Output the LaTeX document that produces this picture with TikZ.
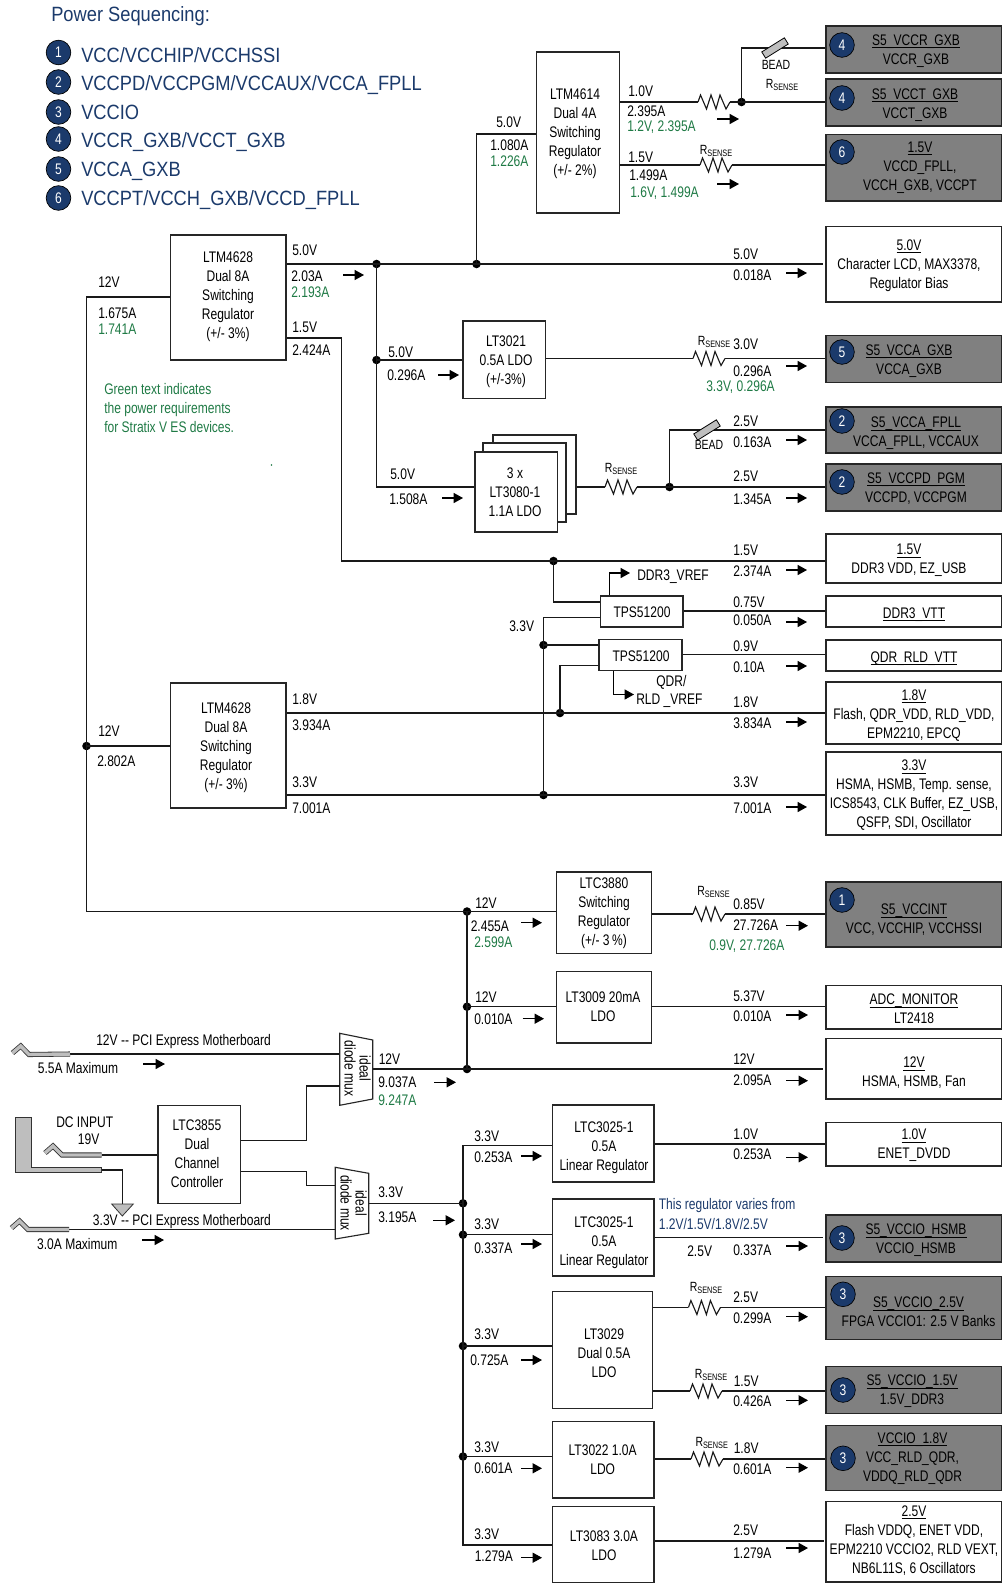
\documentclass[tikz,border=0pt]{standalone}
\usepackage{fontspec}
\setmainfont{Liberation Sans}[FakeStretch=0.785]
\newfontfamily\headfont{Liberation Sans}[FakeStretch=0.885]
\usetikzlibrary{arrows.meta,calc}
\definecolor{navy}{HTML}{1B3A6B}
\definecolor{gtxt}{HTML}{1F7A45}
\definecolor{load}{HTML}{808080}
\definecolor{beadc}{HTML}{BEBEBE}
\newcounter{tn}
\newcommand\Ul[1]{\underline{\smash{#1}}}
\newcommand\PBox[9][]{%
 \pgfmathsetmacro\bw{(#5-#3)*.75}\pgfmathsetmacro\bh{(#6-#4)*.75}%
 \pgfmathsetmacro\bcx{(#3+#5)/2}\pgfmathsetmacro\bcy{(#4+#6)/2}%
 \pgfmathsetmacro\bdx{(#7-\bcx)*.75}\pgfmathsetmacro\bdy{-(#8-\bcy)*.75-4.2}%
 \node[pbox,#1,minimum width=\bw pt,minimum height=\bh pt] (#2) at (\bcx,\bcy)
  {\hspace*{\bdx pt}\raisebox{\bdy pt}[0pt][0pt]{\begin{tabular}{@{}c@{}}#9\end{tabular}}\hspace*{-\bdx pt}};}
\newcommand\Tx[4][]{\stepcounter{tn}\node[lbl,#1] (t\arabic{tn}) at (#2,#3) {#4};}
\newcommand\Fl[3]{\draw[flow] (#1,#3) -- (#2,#3);}
\newcommand\Rs[3]{\coordinate (#1a) at (#2,#3); \coordinate (#1b) at ({#2+32},#3);
 \draw[wire] (#1a) -- ++(2.5,-7) -- ++(6,14) -- ++(4.5,-14) -- ++(5,14) -- ++(4,-14) -- ++(6,14) -- (#1b);}
\newcommand\Dot[3]{\node[jdot] (#1) at (#2,#3) {};}
\newcommand\Seq[4]{\node[seq] (#1) at (#2,#3) {#4};}
\newcommand\RsL[2]{\stepcounter{tn}\node[rsl] (t\arabic{tn}) at (#1,#2) {R\fontsize{7}{8}\selectfont\raisebox{-1.5pt}{SENSE}};}
\tikzset{
 wire/.style={line width=.85pt,draw=black!90,line join=miter},
 flow/.style={line width=.85pt,draw=black,-{Triangle[length=7pt,width=7.5pt]}},
 pbox/.style={draw=black!85,line width=.85pt,fill=white,inner sep=0pt,rectangle,
   font=\fontsize{11.5}{14.25}\selectfont},
 gbox/.style={fill=load},
 lbl/.style={anchor=west,inner sep=0pt,font=\fontsize{11.5}{14.25}\selectfont},
 grn/.style={text=gtxt},
 rsl/.style={anchor=center,inner sep=0pt,font=\fontsize{10}{12}\selectfont},
 jdot/.style={circle,fill=black,draw=none,minimum size=6.4pt,inner sep=0pt},
 seq/.style={circle,fill=navy,draw=black,line width=.5pt,minimum size=18.5pt,inner sep=0pt,text=white,
   font=\fontsize{11.5}{14}\selectfont},
 bead/.style={rectangle,fill=beadc,draw=black,line width=.6pt,minimum width=20pt,minimum height=5.5pt,inner sep=0pt,rotate=32},
 plug/.style={double=beadc,double distance=2.6pt,line width=.6pt,draw=black!80,line join=miter},
 head/.style={anchor=west,inner sep=0pt,text=navy,font=\headfont\fontsize{15.5}{18}\selectfont},
 muxs/.style={draw=black!85,line width=.85pt,fill=white},
 muxt/.style={inner sep=0pt,rotate=-90,align=center,font=\fontsize{11.5}{11.25}\selectfont},
}
\begin{document}
\begin{tikzpicture}[x=.75pt,y=-.75pt]
\useasboundingbox (0,0) rectangle (1002,1587);
% legend
\node[head] (title) at (51,16.5) {Power Sequencing:};
\Seq{s1}{58.5}{52.5}{1}\Seq{s2}{58.5}{82}{2}\Seq{s3}{58.5}{112}{3}\Seq{s4}{58.5}{139}{4}\Seq{s5}{58.5}{169}{5}\Seq{s6}{58.5}{198}{6}
\node[head] (h1) at (81,55) {VCC/VCCHIP/VCCHSSI};
\node[head] (h2) at (81,85) {VCCPD/VCCPGM/VCCAUX/VCCA\_FPLL};
\node[head] (h3) at (81,112.5) {VCCIO};
\node[head] (h4) at (81,142) {VCCR\_GXB/VCCT\_GXB};
\node[head] (h5) at (81,171) {VCCA\_GXB};
\node[head] (h6) at (81,200) {VCCPT/VCCH\_GXB/VCCD\_FPLL};
\node[lbl,grn,align=left,anchor=north west] (note) at (104,383) {Green text indicates\\the power requirements\\for Stratix V ES devices.};
\fill[gtxt] (271.5,465) circle (.6pt);
% regulators
\PBox{ltmA}{170.5}{235}{286}{360}{228}{295}{LTM4628\\Dual 8A\\Switching\\Regulator\\(+/- 3\%)}
\PBox{ltmB}{170.5}{683}{286}{808}{226}{746}{LTM4628\\Dual 8A\\Switching\\Regulator\\(+/- 3\%)}
\PBox{ltmF}{536.5}{52}{619.5}{213}{575}{132}{LTM4614\\Dual 4A\\Switching\\Regulator\\(+/- 2\%)}
\PBox{ltT}{463}{321}{545.5}{398.5}{506}{360}{LT3021\\0.5A LDO\\(+/-3\%)}
\PBox{lt80c}{493}{435}{576}{514}{534}{474}{}
\PBox{lt80b}{483}{443}{566}{522}{524}{482}{}
\PBox{lt80}{475}{452}{557.5}{532}{515}{492}{3 x\\LT3080-1\\1.1A LDO}
\PBox{tpsA}{600.5}{596}{683}{627}{642}{612}{TPS51200}
\PBox{tpsB}{599}{639.5}{682}{670.5}{641}{656}{TPS51200}
\PBox{ltc80}{556.5}{872}{651.5}{953.7}{604}{912}{LTC3880\\Switching\\Regulator\\(+/- 3\,\%)}
\PBox{lt09}{556.5}{971.7}{651.5}{1043}{603}{1007}{LT3009 20mA\\LDO}
\PBox{ltc55}{158}{1105.3}{240.7}{1203.3}{197}{1154}{LTC3855\\Dual\\Channel\\Controller}
\PBox{ltcA}{552.5}{1105}{654}{1182}{604}{1145.7}{LTC3025-1\\0.5A\\Linear Regulator}
\PBox{ltcB}{552.5}{1199}{654}{1276}{604}{1240.7}{LTC3025-1\\0.5A\\Linear Regulator}
\PBox{lt29}{552.5}{1291.7}{652.5}{1408.7}{604}{1353.3}{LT3029\\Dual 0.5A\\LDO}
\PBox{lt22}{552.5}{1421.3}{654}{1498}{602.7}{1460}{LT3022 1.0A\\LDO}
\PBox{lt83}{552.5}{1506.3}{654}{1582.7}{604}{1546}{LT3083 3.0A\\LDO}
% loads
\PBox[gbox]{gR}{826}{26}{1002}{73}{916}{49.5}{\Ul{S5\_VCCR\_GXB}\\VCCR\_GXB}
\PBox[gbox]{gT}{826}{79}{1002}{126}{915}{103.5}{\Ul{S5\_VCCT\_GXB}\\VCCT\_GXB}
\PBox[gbox]{gS}{826}{134.5}{1002}{201}{920}{166}{\Ul{1.5V}\\VCCD\_FPLL,\\VCCH\_GXB, VCCPT}
\PBox{lcd}{826}{226.5}{1002}{302}{909}{264}{\Ul{5.0V}\\Character LCD, MAX3378,\\Regulator Bias}
\PBox[gbox]{gAG}{826}{335.5}{1002}{382.5}{909}{359.5}{\Ul{S5\_VCCA\_GXB}\\VCCA\_GXB}
\PBox[gbox]{gFP}{826}{407}{1002}{453}{916}{432}{\Ul{S5\_VCCA\_FPLL}\\VCCA\_FPLL, VCCAUX}
\PBox[gbox]{gPD}{826}{464}{1002}{511}{916}{487.5}{\Ul{S5\_VCCPD\_PGM}\\VCCPD, VCCPGM}
\PBox{dvdd}{826}{534}{1002}{583}{909}{559}{\Ul{1.5V}\\DDR3 VDD, EZ\_USB}
\PBox{dvtt}{826}{596}{1002}{627}{914}{613}{\Ul{DDR3\_VTT}}
\PBox{qvtt}{826}{640}{1002}{671}{914}{657}{\Ul{QDR\_RLD\_VTT}}
\PBox{vE}{826}{682}{1002}{744}{914}{714}{\Ul{1.8V}\\Flash, QDR\_VDD, RLD\_VDD,\\EPM2210, EPCQ}
\PBox{vT}{826}{752}{1002}{835}{914}{794}{\Ul{3.3V}\\HSMA, HSMB, Temp. sense,\\ICS8543, CLK Buffer, EZ\_USB,\\QSFP, SDI, Oscillator}
\PBox[gbox]{gInt}{826}{882}{1002}{947}{914}{919}{\Ul{S5\_VCCINT}\\VCC, VCCHIP, VCCHSSI}
\PBox{adc}{826}{985.7}{1002}{1029}{914}{1009}{\Ul{ADC\_MONITOR}\\LT2418}
\PBox{vTw}{826}{1038.7}{1002}{1099}{914}{1072}{\Ul{12V}\\HSMA, HSMB, Fan}
\PBox{vO}{826}{1122.3}{1002}{1166}{914}{1144}{\Ul{1.0V}\\ENET\_DVDD}
\PBox[gbox]{gHS}{826}{1215}{1002}{1262}{916}{1239}{\Ul{S5\_VCCIO\_HSMB}\\VCCIO\_HSMB}
\PBox[gbox]{gQ}{826}{1276.7}{1002}{1339.7}{918.5}{1312}{\Ul{S5\_VCCIO\_2.5V}\\FPGA VCCIO1: 2.5 V Banks}
\PBox[gbox]{gP}{826}{1366.7}{1002}{1413.3}{912}{1390}{\Ul{S5\_VCCIO\_1.5V}\\1.5V\_DDR3}
\PBox[gbox]{gE}{826}{1425.3}{1002}{1490.7}{912.5}{1456.7}{\Ul{VCCIO\_1.8V}\\VCC\_RLD\_QDR,\\VDDQ\_RLD\_QDR}
\PBox{vQ}{826}{1501.7}{1002}{1582}{914}{1539.5}{\Ul{2.5V}\\Flash VDDQ, ENET VDD,\\EPM2210 VCCIO2, RLD VEXT,\\NB6L11S, 6 Oscillators}
% sequence badges on loads
\Seq{b1}{842}{45}{4}\Seq{b2}{842}{98}{4}\Seq{b3}{842}{152}{6}\Seq{b4}{842}{352}{5}\Seq{b5}{842}{421}{2}\Seq{b6}{842}{482}{2}
\Seq{b7}{842}{900}{1}\Seq{b8}{842}{1238}{3}\Seq{b9}{843}{1294.3}{3}\Seq{b10}{843}{1390}{3}\Seq{b11}{843}{1458.3}{3}
% junctions
\Dot{jA}{376.5}{264}\Dot{jB}{476.5}{264}\Dot{jC}{376.5}{360}\Dot{jD}{86.5}{746}\Dot{jS}{553.5}{561}
\Dot{jE}{543.5}{645}\Dot{jF}{543.5}{795}\Dot{jG}{560}{713}\Dot{jH}{741.5}{102}\Dot{jI}{669.5}{487}
\Dot{jJ}{467}{911.5}\Dot{jK}{467}{1006.7}\Dot{jL}{467}{1069}\Dot{jM}{463}{1203.3}\Dot{jN}{463}{1234.7}\Dot{jO}{463}{1346}\Dot{jP}{463}{1456.5}
% resistors
\Rs{ra}{698}{102}\Rs{rb}{700}{165}\Rs{rc}{693}{358.5}\Rs{rd}{605}{487}\Rs{re}{693}{914}\Rs{rf}{688.4}{1307.5}\Rs{rg}{690}{1391}\Rs{rh}{691}{1459}
\RsL{782}{85}\RsL{716}{151}\RsL{714}{342}\RsL{621}{469}\RsL{713.5}{891.7}\RsL{706}{1288.3}\RsL{711}{1375}\RsL{711.7}{1442.7}
% wires
\draw[wire] (ltmA.west |- 0,297) -- (86.5,297) -- (86.5,911.5) -- (jJ.center) -- (ltc80.west |- jJ);
\draw[wire] (jD.center) -- (ltmB.west |- jD);
\draw[wire] (jJ.center) -- (jK.center) -- (jL.center);
\draw[wire] (jK.center) -- (lt09.west |- jK);
\draw[wire,shorten >=2pt] (372.7,1069) -- (jL.center) -- (vTw.west |- jL);
\draw[wire,shorten >=2pt] (ltmA.east |- jA) -- (jA.center) -- (jB.center) -- (lcd.west |- jB);
\draw[wire] (jB.center) |- (ltmF.west |- 0,134);
\draw[wire] (jA.center) -- (jC.center) -- (376.5,487) -- (lt80.west |- 0,487);
\draw[wire] (jC.center) -- (ltT.west |- jC);
\draw[wire] (ltmA.east |- 0,338) -- (341.5,338) -- (341.5,561) -- (jS.center) -- (dvdd.west |- jS);
\draw[wire] (jS.center) |- (tpsA.west |- 0,602);
\draw[wire] (jF.center) -- (543.5,617.5) -- (tpsA.west |- 0,617.5);
\draw[wire] (jE.center) -- (tpsB.west |- jE);
\draw[wire] (ltmB.east |- jF) -- (jF.center) -- (vT.west |- jF);
\draw[wire] (ltmB.east |- jG) -- (jG.center) -- (vE.west |- jG);
\draw[wire] (tpsB.west |- 0,665.5) -| (jG.center);
\draw[flow] (609.5,0 |- tpsA.north) |- (630,573);
\draw[flow] (613.5,0 |- tpsB.south) |- (634,694.5);
\draw[wire] (tpsA.east |- 0,611) -- (dvtt.west |- 0,611);
\draw[wire] (tpsB.east |- 0,654.5) -- (qvtt.west |- 0,654.5);
\draw[wire] (ltmF.east |- raa) -- (raa); 
\draw[wire] (rab) -- (jH.center) -- (gT.west |- jH);
\draw[wire] (jH.center) |- (gR.west |- 0,48);
\draw[wire] (ltmF.east |- rba) -- (rba);
\draw[wire] (rbb) -- (gS.west |- rbb);
\draw[wire] (ltT.east |- rca) -- (rca);
\draw[wire] (rcb) -- (gAG.west |- rcb);
\draw[wire] (lt80c.east |- rda) -- (rda);
\draw[wire] (rdb) -- (jI.center) -- (gPD.west |- jI);
\draw[wire] (jI.center) |- (gFP.west |- 0,430);
\draw[wire] (ltc80.east |- rea) -- (rea);
\draw[wire] (reb) -- (gInt.west |- reb);
\draw[wire] (lt09.east |- jK) -- (adc.west |- jK);
\draw[wire] (ltcA.east |- 0,1144) -- (vO.west |- 0,1144);
\draw[wire,shorten >=2pt] (ltcB.east |- 0,1237.7) -- (gHS.west |- 0,1237.7);
\draw[wire] (lt29.east |- rfa) -- (rfa);
\draw[wire] (rfb) -- (gQ.west |- rfb);
\draw[wire] (lt29.east |- rga) -- (rga);
\draw[wire] (rgb) -- (gP.west |- rgb);
\draw[wire] (lt22.east |- rha) -- (rha);
\draw[wire] (rhb) -- (gE.west |- rhb);
\draw[wire,shorten >=1pt] (lt83.east |- 0,1541) -- (vQ.west |- 0,1541);
% 3.3V bus
\draw[wire] (ltcA.west |- 0,1145.7) -- (463,1145.7) -- (463,1545) -- (lt83.west |- 0,1545);
\draw[wire] (368.7,1203.3) -- (jM.center);
\draw[wire] (jN.center) -- (ltcB.west |- jN);
\draw[wire] (jO.center) -- (lt29.west |- jO);
\draw[wire] (jP.center) -- (lt22.west |- jP);
% beads
\node[bead] (bdA) at (775,48) {};
\node[bead] (bdB) at (707,430) {};
% input side
\coordinate (plA) at (70,1054);
\coordinate (plB) at (101.7,1155);
\coordinate (plC) at (69,1229.5);
\coordinate (gndT) at (122.3,1204);
\draw[wire] (plA) -- (339.7,1054);
\draw[wire] (plB) -- (ltc55.west |- plB);
\draw[wire] (plC) -- (335.3,1229.5);
\draw[plug] (12.5,1053) -- (20.7,1046) -- (29,1054.5) -- (plA);
\draw[plug] (45,1153) -- (53,1146) -- (62,1155) -- (plB);
\draw[plug] (11.5,1228) -- (19.5,1221) -- (28,1229.5) -- (plC);
\draw[draw=black!80,line width=.7pt,fill=beadc] (15,1117) -- (31.7,1117) -- (31.7,1167.7) -- (101.7,1167.7) -- (101.7,1172.3) -- (15,1172.3) -- cycle;
\draw[wire] (101.7,1170) -| (gndT);
\draw[draw=black!80,line width=.6pt,fill=beadc] (111.7,1204) -- (133.3,1204) -- (122.3,1216) -- cycle;
\draw[muxs] (339.7,1033.3) -- (372.7,1040) -- (372.7,1099) -- (339.7,1105.3) -- cycle;
\draw[muxs] (335.3,1167.3) -- (368.7,1173.3) -- (368.7,1233.3) -- (335.3,1239) -- cycle;
\node[muxt] (muxA) at (357.5,1068.5) {ideal\\diode mux};
\node[muxt] (muxB) at (353.7,1203) {ideal\\diode mux};
\draw[wire] (ltc55.east |- 0,1140.7) -- (306.7,1140.7) -- (306.7,1086) -- (339.7,1086);
\draw[wire] (ltc55.east |- 0,1171.7) -- (306.5,1171.7) -- (306.5,1185.3) -- (335.3,1185.3);
\Tx{96}{1041.7}{12V {-}{-} PCI Express Motherboard}
\Tx[anchor=center]{78}{1067.7}{5.5A Maximum}
\Tx[anchor=center]{84.7}{1122.3}{DC INPUT}
\Tx[anchor=center]{88.7}{1139.3}{19V}
\Tx{92.7}{1221.7}{3.3V {-}{-} PCI Express Motherboard}
\Tx[anchor=center]{77.3}{1243.7}{3.0A Maximum}
\Tx[rsl]{776}{65}{BEAD}
\Tx[rsl]{709}{445}{BEAD}
% labels
\Tx{98}{282}{12V}\Tx{98}{313}{1.675A}\Tx[grn]{98}{329}{1.741A}
\Tx{292}{250}{5.0V}\Tx{291}{276}{2.03A}\Tx[grn]{291}{292}{2.193A}
\Tx{292}{327}{1.5V}\Tx{292}{350}{2.424A}
\Tx{388}{352}{5.0V}\Tx{387}{375}{0.296A}
\Tx{390}{474}{5.0V}\Tx{389}{499}{1.508A}
\Tx{496}{122}{5.0V}\Tx{490}{145}{1.080A}\Tx[grn]{490}{161}{1.226A}
\Tx{628}{91}{1.0V}\Tx{627}{111}{2.395A}\Tx[grn]{627}{127}{1.2V, 2.395A}
\Tx{628}{157}{1.5V}\Tx{629}{175}{1.499A}\Tx[grn]{630}{193}{1.6V, 1.499A}
\Tx{733}{254}{5.0V}\Tx{733}{275}{0.018A}
\Tx{733}{344}{3.0V}\Tx{733}{371}{0.296A}\Tx[grn]{706}{387}{3.3V, 0.296A}
\Tx{733}{421}{2.5V}\Tx{733}{442}{0.163A}
\Tx{733}{476}{2.5V}\Tx{733}{499}{1.345A}
\Tx{733}{550}{1.5V}\Tx{733}{571}{2.374A}
\Tx{637}{577}{DDR3\_VREF}
\Tx{509}{626}{3.3V}
\Tx{733}{602}{0.75V}\Tx{733}{620}{0.050A}
\Tx{733}{646}{0.9V}\Tx{733}{667}{0.10A}
\Tx{656}{682}{QDR/}\Tx{636}{701}{RLD \_VREF}
\Tx{733}{702}{1.8V}\Tx{733}{723}{3.834A}
\Tx{733}{782}{3.3V}\Tx{733}{808}{7.001A}
\Tx{98}{731}{12V}\Tx{97}{761}{2.802A}
\Tx{292}{699}{1.8V}\Tx{292}{725}{3.934A}
\Tx{292}{782}{3.3V}\Tx{292}{808}{7.001A}
\Tx{475}{903}{12V}\Tx{470.5}{926.7}{2.455A}\Tx[grn]{474}{942.7}{2.599A}
\Tx{733}{904}{0.85V}\Tx{733}{925}{27.726A}\Tx[grn]{709}{946}{0.9V, 27.726A}
\Tx{475}{997}{12V}\Tx{474}{1019}{0.010A}
\Tx{733}{996.7}{5.37V}\Tx{733}{1016.7}{0.010A}
\Tx{733}{1059}{12V}\Tx{733}{1080.7}{2.095A}
\Tx{378.5}{1058.7}{12V}\Tx{378}{1082.7}{9.037A}\Tx[grn]{378}{1100}{9.247A}
\Tx{474}{1136}{3.3V}\Tx{474}{1157.3}{0.253A}
\Tx{733}{1134}{1.0V}\Tx{733}{1154.7}{0.253A}
\Tx{378}{1192.7}{3.3V}\Tx{378}{1217.7}{3.195A}
\Tx[text=navy]{658.6}{1206}{This regulator varies from}
\Tx[text=navy]{658.6}{1224}{1.2V/1.5V/1.8V/2.5V}
\Tx{474}{1224.7}{3.3V}\Tx{474}{1248.7}{0.337A}
\Tx{687}{1251.7}{2.5V}\Tx{733}{1250.7}{0.337A}
\Tx{474}{1334.3}{3.3V}\Tx{470}{1360.7}{0.725A}
\Tx{733}{1297.3}{2.5V}\Tx{733}{1318.7}{0.299A}
\Tx{733.5}{1381.7}{1.5V}\Tx{733}{1401.7}{0.426A}
\Tx{474}{1447.3}{3.3V}\Tx{474}{1468.7}{0.601A}
\Tx{733.5}{1448.7}{1.8V}\Tx{733}{1469.3}{0.601A}
\Tx{474}{1534.3}{3.3V}\Tx{474.5}{1556.7}{1.279A}
\Tx{733}{1530.3}{2.5V}\Tx{733}{1553.3}{1.279A}
% current-direction arrows
\Fl{343}{364}{275}\Fl{438}{459}{375}\Fl{442}{463}{498}
\Fl{717}{739}{119}\Fl{717}{739}{184}
\Fl{786}{807}{273}\Fl{786}{807}{366}\Fl{786}{807}{440}\Fl{786}{807}{498}\Fl{786}{807}{570}\Fl{786}{807}{622}\Fl{786}{807}{666}\Fl{786}{807}{722}\Fl{786}{807}{807}
\Fl{521}{542}{922.7}\Fl{786}{808}{925.7}\Fl{522.5}{544}{1018.7}\Fl{786}{808}{1015}\Fl{786}{808}{1080.7}
\Fl{143}{165}{1064}\Fl{434}{456}{1082.3}\Fl{142}{164}{1240}\Fl{433}{455}{1220.3}
\Fl{521}{542}{1156}\Fl{786}{808}{1157.3}\Fl{521}{542}{1244}\Fl{786}{808}{1246}\Fl{521}{542}{1360}\Fl{786}{808}{1316.7}\Fl{786}{808}{1400.3}\Fl{521}{542}{1468.3}\Fl{786}{808}{1467.7}\Fl{521}{542}{1557.7}\Fl{786}{808}{1548}
\end{tikzpicture}
\end{document}
